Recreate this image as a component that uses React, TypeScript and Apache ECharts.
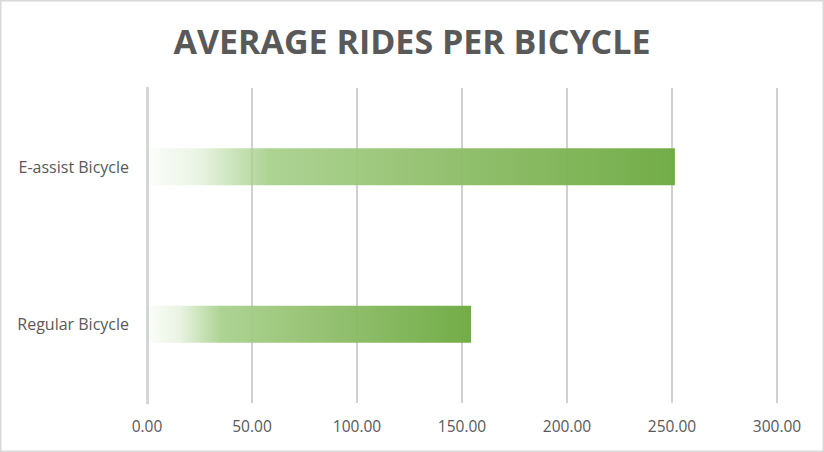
import React, { useEffect, useRef } from "react";
import * as echarts from "echarts";

const categories = ["Regular Bicycle", "E-assist Bicycle"];
const rides = [154.3, 251.4];
const xTicks = [0, 50, 100, 150, 200, 250, 300];

export default function App() {
  const ref = useRef<HTMLDivElement>(null);
  useEffect(() => {
    document.body.style.margin = "0";
    const chart = echarts.init(ref.current!, null, { renderer: "svg" });
    const grad = new echarts.graphic.LinearGradient(0, 0, 1, 0, [
      { offset: 0, color: "rgba(169,209,142,0.04)" },
      { offset: 0.1, color: "rgba(169,209,142,0.25)" },
      { offset: 0.23, color: "rgba(169,209,142,0.95)" },
      { offset: 0.5, color: "rgba(148,193,112,0.95)" },
      { offset: 1, color: "rgba(110,170,66,0.97)" },
    ]);
    chart.setOption({
      animation: false,
      backgroundColor: "#ffffff",
      title: {
        text: "AVERAGE RIDES PER BICYCLE",
        left: "center",
        top: 19,
        textStyle: {
          fontFamily: "Open Sans",
          fontWeight: "bold",
          fontSize: 34,
          color: "#595959",
        },
      },
      graphic: [
        {
          type: "rect",
          shape: { x: 0.5, y: 0.5, width: 823, height: 451 },
          style: { fill: "none", stroke: "#d9d9d9", lineWidth: 2 },
          silent: true,
        },
      ],
      grid: { left: 147, right: 47, top: 88, bottom: 49, containLabel: false },
      xAxis: {
        type: "value",
        min: xTicks[0],
        max: xTicks[xTicks.length - 1],
        interval: 50,
        axisLine: { show: false },
        axisTick: { show: false },
        splitLine: { show: true, lineStyle: { color: "#d0d0d0", width: 2 } },
        axisLabel: {
          formatter: (v: number) => v.toFixed(2),
          color: "#595959",
          fontFamily: "Open Sans",
          fontSize: 15.5,
          margin: 15,
        },
      },
      yAxis: {
        type: "category",
        data: categories,
        axisLine: { show: true, lineStyle: { color: "#d6d6d6", width: 3 } },
        axisTick: { show: false },
        axisLabel: {
          color: "#595959",
          fontFamily: "Open Sans",
          fontSize: 16,
          margin: 18,
        },
      },
      series: [
        {
          type: "bar",
          data: rides,
          barWidth: 37,
          itemStyle: { color: grad },
        },
      ],
    });
    return () => chart.dispose();
  }, []);
  return <div ref={ref} style={{ width: 824, height: 452 }} />;
}
